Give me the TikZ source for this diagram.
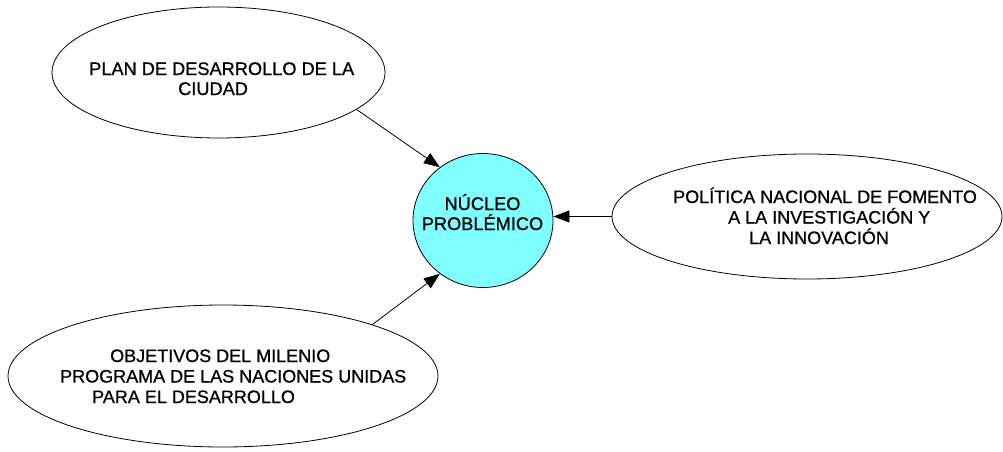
\documentclass[tikz,border=0pt]{standalone}
\usepackage{fontspec}
\setmainfont{Liberation Sans}[FakeBold=0.8]
\usetikzlibrary{shapes.geometric,arrows.meta}
\definecolor{nucleocyan}{RGB}{128,255,255}
\tikzset{
  oval/.style={ellipse, draw=black, line width=0.8pt, inner sep=0pt},
  lbl/.style={inner sep=0pt, align=left, anchor=base west},
  conn/.style={line width=0.8pt, -{Triangle[length=16pt,width=12pt]}}
}
\begin{document}
\begin{tikzpicture}[x=1pt,y=-1pt]
\path[use as bounding box] (0,0) rectangle (1003,452);
% shapes
\node[oval, minimum width=333pt, minimum height=131pt] (plan) at (218.5,72.5) {};
\node[oval, fill=nucleocyan, minimum width=140pt, minimum height=134pt] (nucleo) at (483,220.5) {};
\node[oval, minimum width=390pt, minimum height=125pt] (politica) at (807,216.5) {};
\node[oval, minimum width=430pt, minimum height=142pt] (objetivos) at (223,376) {};
% texts (base anchor = baseline of last line)
\node[lbl, font=\fontsize{18.2}{20}\selectfont] (tplan) at (89,95) {PLAN DE DESARROLLO DE LA\\\hspace*{89pt}CIUDAD};
\node[inner sep=0pt, align=center, anchor=base, font=\fontsize{18.2}{20}\selectfont] (tnucleo) at (482.5,230) {NÚCLEO\\PROBLÉMICO};
\node[lbl, font=\fontsize{18}{20.5}\selectfont] (tpolitica) at (673,244) {POLÍTICA NACIONAL DE FOMENTO\\\hspace*{55pt}A LA INVESTIGACIÓN Y\\\hspace*{76pt}LA INNOVACIÓN};
\node[lbl, font=\fontsize{18}{20.5}\selectfont] (tobjetivos) at (60,403) {\hspace*{50pt}OBJETIVOS DEL MILENIO\\PROGRAMA DE LAS NACIONES UNIDAS\\\hspace*{32pt}PARA EL DESARROLLO};
% connectors
\draw[conn] (plan.-15.6) -- (nucleo.129.6);
\draw[conn] (objetivos.19.5) -- (nucleo.231.6);
\draw[conn] (politica.west) -- (politica.west -| nucleo.east);
\end{tikzpicture}
\end{document}
